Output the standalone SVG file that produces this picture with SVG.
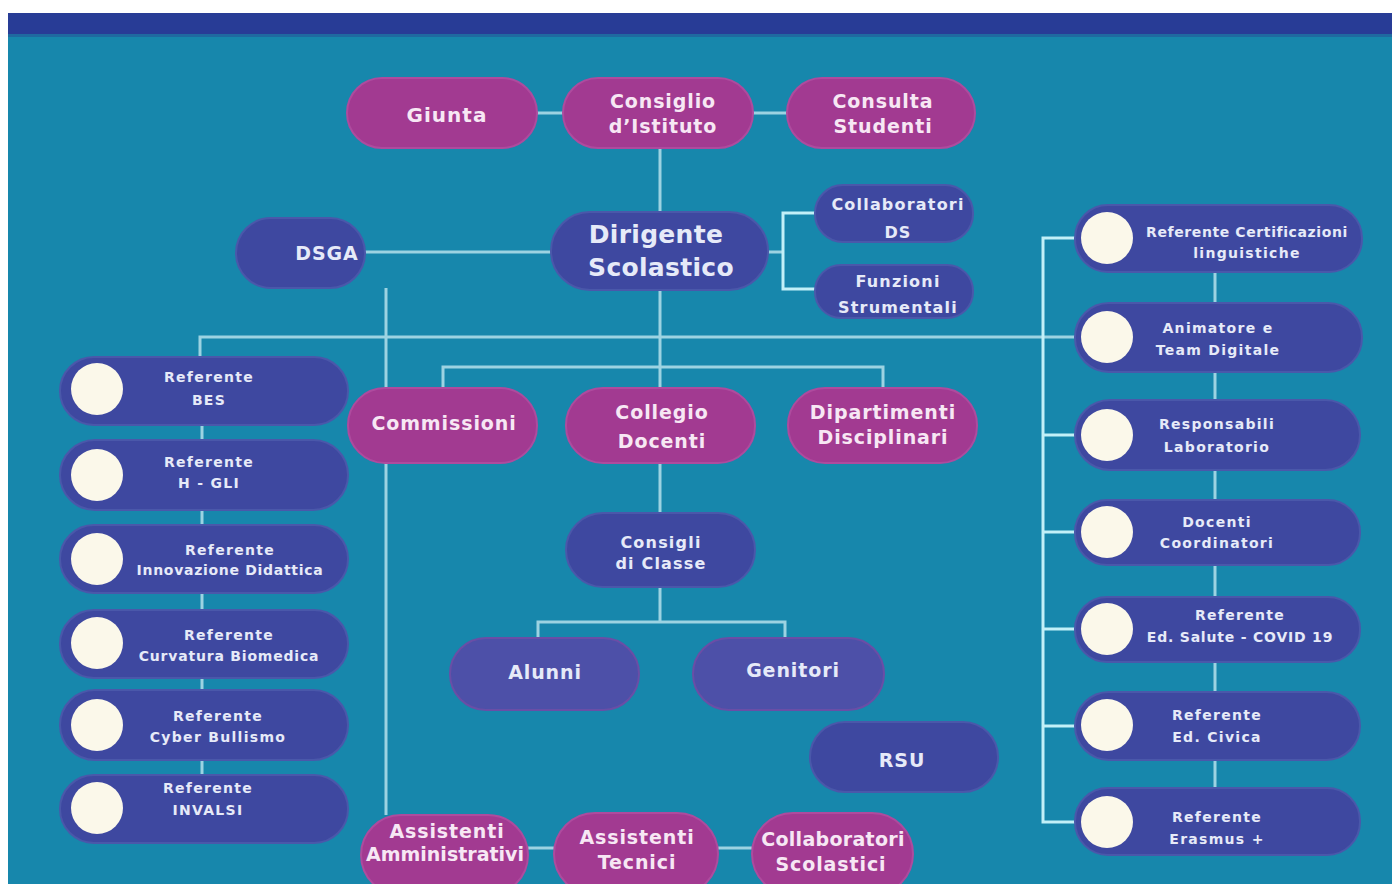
<svg xmlns="http://www.w3.org/2000/svg" width="1392" height="884" viewBox="0 0 1392 884">
<defs>
<style>
.m{fill:#a23a91;stroke:#ae4b9e;stroke-width:2}
.b{fill:#3e48a0;stroke:#4a58aa;stroke-width:2}
.p{fill:#4d50a8;stroke:#6a4ea6;stroke-width:2}
.c{fill:#fbf8ea}
.ln{stroke:#9cd3e2;stroke-width:3;fill:none}
.lb{stroke:#c2f0f8;stroke-width:3;fill:none}
text{font-family:"DejaVu Sans","Liberation Sans",sans-serif;font-weight:bold;text-anchor:middle}
.tm{fill:#f7e7f4}
.tb{fill:#e6eaf8}
.s13{font-size:14px;letter-spacing:1.3px}
.s15{font-size:16px;letter-spacing:1.2px}
.s17{font-size:19px;letter-spacing:0.9px}
.s18{font-size:20px;letter-spacing:1px}
.s24{font-size:25px;letter-spacing:0.3px}
</style>
</defs>
<rect x="0" y="0" width="1392" height="884" fill="#ffffff"/>
<rect x="8" y="13" width="1384" height="871" fill="#1787ac"/>
<rect x="8" y="13" width="1384" height="21" fill="#283c96"/>
<rect x="8" y="34" width="1384" height="3" fill="#1f6aa0"/>

<g id="connectors">
<line class="ln" x1="537" y1="113" x2="563" y2="113"/>
<line class="ln" x1="753" y1="113" x2="787" y2="113"/>
<line class="ln" x1="660" y1="148" x2="660" y2="212"/>
<line class="ln" x1="365" y1="252" x2="551" y2="252"/>
<line class="ln" x1="768" y1="252" x2="783" y2="252"/>
<polyline class="lb" points="815,213 783,213 783,289 815,289"/>
<line class="ln" x1="660" y1="290" x2="660" y2="388"/>
<line class="ln" x1="386" y1="288" x2="386" y2="815"/>
<polyline class="ln" points="200,357 200,337 1075,337"/>
<polyline class="ln" points="443,388 443,367 883,367 883,388"/>
<line class="ln" x1="660" y1="463" x2="660" y2="513"/>
<polyline class="ln" points="538,638 538,622 785,622 785,638"/>
<line class="ln" x1="660" y1="587" x2="660" y2="622"/>
<line class="ln" x1="528" y1="848" x2="554" y2="848"/>
<line class="ln" x1="718" y1="848" x2="752" y2="848"/>
<line class="ln" x1="202" y1="425" x2="202" y2="440"/>
<line class="ln" x1="202" y1="510" x2="202" y2="525"/>
<line class="ln" x1="202" y1="593" x2="202" y2="610"/>
<line class="ln" x1="202" y1="678" x2="202" y2="690"/>
<line class="ln" x1="202" y1="760" x2="202" y2="775"/>
<line class="ln" x1="1215" y1="272" x2="1215" y2="303"/>
<line class="ln" x1="1215" y1="372" x2="1215" y2="400"/>
<line class="ln" x1="1215" y1="470" x2="1215" y2="500"/>
<line class="ln" x1="1215" y1="565" x2="1215" y2="597"/>
<line class="ln" x1="1215" y1="662" x2="1215" y2="692"/>
<line class="ln" x1="1215" y1="760" x2="1215" y2="788"/>
<polyline class="lb" points="1075,238 1043,238 1043,822 1075,822"/>
<line class="lb" x1="1043" y1="435" x2="1075" y2="435"/>
<line class="lb" x1="1043" y1="532" x2="1075" y2="532"/>
<line class="lb" x1="1043" y1="629" x2="1075" y2="629"/>
<line class="lb" x1="1043" y1="726" x2="1075" y2="726"/>
</g>

<g id="giunta"><rect class="m" x="347" y="78" width="190" height="70" rx="35"/><text class="tm s18" x="447" y="122">Giunta</text></g>
<g id="consiglio-istituto"><rect class="m" x="563" y="78" width="190" height="70" rx="35"/><text class="tm s17" x="663" y="108">Consiglio</text><text class="tm s17" x="663" y="133">d’Istituto</text></g>
<g id="consulta-studenti"><rect class="m" x="787" y="78" width="188" height="70" rx="35"/><text class="tm s17" x="883" y="108">Consulta</text><text class="tm s17" x="883" y="133">Studenti</text></g>

<g id="dsga"><rect class="b" x="236" y="218" width="129" height="70" rx="35"/><text class="tb s17" x="327" y="260">DSGA</text></g>
<g id="dirigente"><rect class="b" x="551" y="212" width="217" height="78" rx="39"/><text class="tb s24" x="656" y="243">Dirigente</text><text class="tb s24" x="661" y="276">Scolastico</text></g>
<g id="collaboratori-ds"><rect class="b" x="815" y="185" width="158" height="57" rx="28"/><text class="tb s15" x="898" y="210">Collaboratori</text><text class="tb s15" x="898" y="238">DS</text></g>
<g id="funzioni-strumentali"><rect class="b" x="815" y="265" width="158" height="53" rx="26"/><text class="tb s15" x="898" y="287">Funzioni</text><text class="tb s15" x="898" y="313">Strumentali</text></g>

<g id="commissioni"><rect class="m" x="348" y="388" width="189" height="75" rx="37"/><text class="tm s17" x="444" y="430">Commissioni</text></g>
<g id="collegio-docenti"><rect class="m" x="566" y="388" width="189" height="75" rx="37"/><text class="tm s17" x="662" y="419">Collegio</text><text class="tm s17" x="662" y="448">Docenti</text></g>
<g id="dipartimenti"><rect class="m" x="788" y="388" width="189" height="75" rx="37"/><text class="tm s17" x="883" y="419">Dipartimenti</text><text class="tm s17" x="883" y="444">Disciplinari</text></g>

<g id="consigli-classe"><rect class="b" x="566" y="513" width="189" height="74" rx="37"/><text class="tb s15" x="661" y="548">Consigli</text><text class="tb s15" x="661" y="569">di Classe</text></g>
<g id="alunni"><rect class="p" x="450" y="638" width="189" height="72" rx="36"/><text class="tb s17" x="545" y="679">Alunni</text></g>
<g id="genitori"><rect class="p" x="693" y="638" width="191" height="72" rx="36"/><text class="tb s17" x="793" y="677">Genitori</text></g>
<g id="rsu"><rect class="b" x="810" y="722" width="188" height="70" rx="35"/><text class="tb s17" x="902" y="767">RSU</text></g>

<g id="assistenti-amministrativi"><rect class="m" x="361" y="815" width="167" height="80" rx="40"/><text class="tm s17" x="447" y="838">Assistenti</text><text class="tm s17" x="445" y="861" style="letter-spacing:0px">Amministrativi</text></g>
<g id="assistenti-tecnici"><rect class="m" x="554" y="813" width="164" height="82" rx="41"/><text class="tm s17" x="637" y="844">Assistenti</text><text class="tm s17" x="637" y="869">Tecnici</text></g>
<g id="collaboratori-scolastici"><rect class="m" x="752" y="813" width="161" height="82" rx="41"/><text class="tm s17" x="833" y="846" style="letter-spacing:0.3px">Collaboratori</text><text class="tm s17" x="831" y="871">Scolastici</text></g>

<g id="ref-bes"><rect class="b" x="60" y="357" width="288" height="68" rx="34"/><circle class="c" cx="97" cy="389" r="26"/><text class="tb s13" x="209" y="382">Referente</text><text class="tb s13" x="209" y="405">BES</text></g>
<g id="ref-h-gli"><rect class="b" x="60" y="440" width="288" height="70" rx="35"/><circle class="c" cx="97" cy="475" r="26"/><text class="tb s13" x="209" y="467">Referente</text><text class="tb s13" x="209" y="488">H - GLI</text></g>
<g id="ref-innovazione"><rect class="b" x="60" y="525" width="288" height="68" rx="34"/><circle class="c" cx="97" cy="559" r="26"/><text class="tb s13" x="230" y="555">Referente</text><text class="tb s13" x="230" y="575" style="letter-spacing:0.7px">Innovazione Didattica</text></g>
<g id="ref-curvatura"><rect class="b" x="60" y="610" width="288" height="68" rx="34"/><circle class="c" cx="97" cy="643" r="26"/><text class="tb s13" x="229" y="640">Referente</text><text class="tb s13" x="229" y="661" style="letter-spacing:0.8px">Curvatura Biomedica</text></g>
<g id="ref-cyber"><rect class="b" x="60" y="690" width="288" height="70" rx="35"/><circle class="c" cx="97" cy="725" r="26"/><text class="tb s13" x="218" y="721">Referente</text><text class="tb s13" x="218" y="742">Cyber Bullismo</text></g>
<g id="ref-invalsi"><rect class="b" x="60" y="775" width="288" height="68" rx="34"/><circle class="c" cx="97" cy="808" r="26"/><text class="tb s13" x="208" y="793">Referente</text><text class="tb s13" x="208" y="815">INVALSI</text></g>

<g id="ref-certificazioni"><rect class="b" x="1075" y="205" width="287" height="67" rx="33"/><circle class="c" cx="1107" cy="238" r="26"/><text class="tb s13" x="1247" y="237" style="letter-spacing:0.6px">Referente Certificazioni</text><text class="tb s13" x="1247" y="258">linguistiche</text></g>
<g id="animatore"><rect class="b" x="1075" y="303" width="287" height="69" rx="34"/><circle class="c" cx="1107" cy="337" r="26"/><text class="tb s13" x="1218" y="333">Animatore e</text><text class="tb s13" x="1218" y="355">Team Digitale</text></g>
<g id="responsabili-laboratorio"><rect class="b" x="1075" y="400" width="285" height="70" rx="35"/><circle class="c" cx="1107" cy="435" r="26"/><text class="tb s13" x="1217" y="429">Responsabili</text><text class="tb s13" x="1217" y="452">Laboratorio</text></g>
<g id="docenti-coordinatori"><rect class="b" x="1075" y="500" width="285" height="65" rx="32"/><circle class="c" cx="1107" cy="532" r="26"/><text class="tb s13" x="1217" y="527">Docenti</text><text class="tb s13" x="1217" y="548">Coordinatori</text></g>
<g id="ref-salute"><rect class="b" x="1075" y="597" width="285" height="65" rx="32"/><circle class="c" cx="1107" cy="629" r="26"/><text class="tb s13" x="1240" y="620">Referente</text><text class="tb s13" x="1240" y="642" style="letter-spacing:0.8px">Ed. Salute - COVID 19</text></g>
<g id="ref-civica"><rect class="b" x="1075" y="692" width="285" height="68" rx="34"/><circle class="c" cx="1107" cy="725" r="26"/><text class="tb s13" x="1217" y="720">Referente</text><text class="tb s13" x="1217" y="742">Ed. Civica</text></g>
<g id="ref-erasmus"><rect class="b" x="1075" y="788" width="285" height="67" rx="33"/><circle class="c" cx="1107" cy="822" r="26"/><text class="tb s13" x="1217" y="822">Referente</text><text class="tb s13" x="1217" y="844">Erasmus +</text></g>
</svg>
